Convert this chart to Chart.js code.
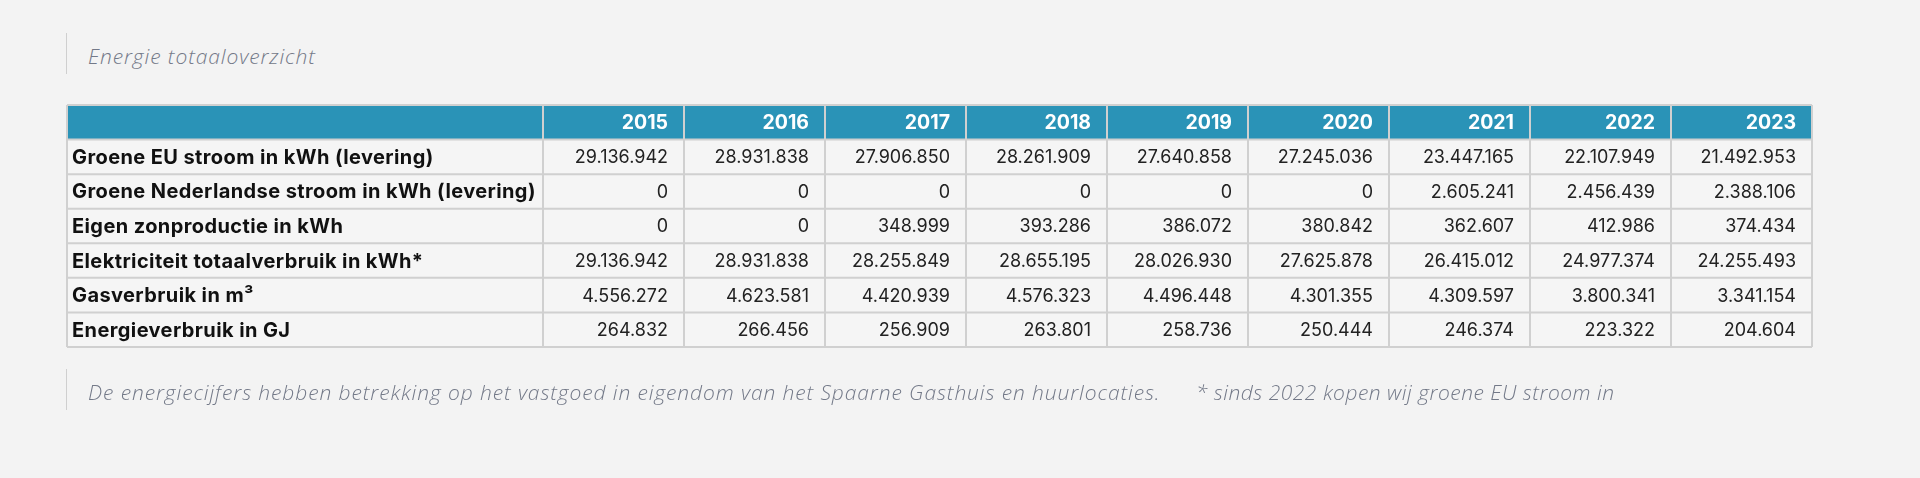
<!DOCTYPE html>
<html lang="nl">
<head>
<meta charset="utf-8">
<title>Energie totaaloverzicht</title>
<script src="https://cdn.jsdelivr.net/npm/chart.js@4.4.1/dist/chart.umd.min.js"></script>
<style>
    html, body { margin: 0; padding: 0; }
    body {
        width: 1920px; height: 478px; position: relative; overflow: hidden;
        background: #f3f3f3;
    }
    .note {
        position: absolute; left: 66px; height: 41px;
        border-left: 1px solid #cfcfcf;
        padding-left: 21px;
        font-family: 'Open Sans', sans-serif; font-style: italic; font-weight: 300;
        font-size: 21px; letter-spacing: 0.9px; line-height: 47px; color: #737988;
        white-space: nowrap;
    }
    .note .star { position: absolute; left: 1129px; letter-spacing: 0.5px; }
    #wrap { position: absolute; left: 0; top: 0; width: 1920px; height: 478px; }
</style>
</head>
<body>
<div class="note" style="top:33px">Energie totaaloverzicht</div>
<div id="wrap"><canvas id="tableChart"></canvas></div>
<div class="note" style="top:369px">De energiecijfers hebben betrekking op het vastgoed in eigendom van het Spaarne Gasthuis en huurlocaties.<span class="star">* sinds 2022 kopen wij groene EU stroom in</span></div>

<script>
/* ==============================
   ENERGIE TOTAALOVERZICHT
   ============================== */

const years = ['2015', '2016', '2017', '2018', '2019', '2020', '2021', '2022', '2023'];

const rowLabels = [
    'Groene EU stroom in kWh (levering)',
    'Groene Nederlandse stroom in kWh (levering)',
    'Eigen zonproductie in kWh',
    'Elektriciteit totaalverbruik in kWh*',
    'Gasverbruik in m³',
    'Energieverbruik in GJ'
];

const groeneEU     = [29136942, 28931838, 27906850, 28261909, 27640858, 27245036, 23447165, 22107949, 21492953];
const groeneNL     = [0, 0, 0, 0, 0, 0, 2605241, 2456439, 2388106];
const zonproductie = [0, 0, 348999, 393286, 386072, 380842, 362607, 412986, 374434];
const elektriciteit = [29136942, 28931838, 28255849, 28655195, 28026930, 27625878, 26415012, 24977374, 24255493];
const gasverbruik  = [4556272, 4623581, 4420939, 4576323, 4496448, 4301355, 4309597, 3800341, 3341154];
const energieGJ    = [264832, 266456, 256909, 263801, 258736, 250444, 246374, 223322, 204604];

const rowValues = [groeneEU, groeneNL, zonproductie, elektriciteit, gasverbruik, energieGJ];

const TABLE_LEFT = 67;
const HEADER_BG = '#2a93b7';
const CELL_BG = '#f5f5f5';
const LINE = '#d0d0d0';

const fmt = v => String(v).replace(/\B(?=(\d{3})+(?!\d))/g, '.');

// Draws the table cells from the category scales
const tablePlugin = {
    id: 'tableCells',
    afterDraw(chart) {
        const { ctx, scales: { x, y } } = chart;
        const colHalf = x.width / years.length / 2;
        const rowHalf = y.height / (rowLabels.length + 1) / 2;
        const left = TABLE_LEFT, right = x.right;
        ctx.save();

        // header band
        const hy = y.getPixelForValue(0);
        ctx.fillStyle = HEADER_BG;
        ctx.fillRect(left, hy - rowHalf, right - left, rowHalf * 2);

        // body bands
        ctx.fillStyle = CELL_BG;
        rowLabels.forEach((_, r) => {
            const cy = y.getPixelForValue(r + 1);
            ctx.fillRect(left, cy - rowHalf, right - left, rowHalf * 2);
        });

        // header years
        ctx.fillStyle = '#ffffff';
        ctx.font = '700 19.5px Inter';
        ctx.textAlign = 'right';
        ctx.textBaseline = 'middle';
        years.forEach((yr, c) => {
            ctx.fillText(yr, x.getPixelForValue(c) + colHalf - 16, hy + 1);
        });

        // row labels + values
        rowLabels.forEach((label, r) => {
            const cy = y.getPixelForValue(r + 1) + 1;
            ctx.fillStyle = '#111111';
            ctx.font = '700 20px Inter';
            ctx.letterSpacing = '0.4px';
            ctx.textAlign = 'left';
            ctx.fillText(label, left + 5, cy);
            ctx.letterSpacing = '0px';
            ctx.fillStyle = '#222222';
            ctx.font = '400 18px Inter';
            ctx.textAlign = 'right';
            rowValues[r].forEach((v, c) => {
                ctx.fillText(fmt(v), x.getPixelForValue(c) + colHalf - 16, cy);
            });
        });

        // grid lines
        ctx.strokeStyle = LINE;
        ctx.lineWidth = 2;
        ctx.beginPath();
        const top = y.getPixelForValue(0) - rowHalf;
        const bottom = y.getPixelForValue(rowLabels.length) + rowHalf;
        [left, x.left].concat(years.map((_, c) => x.getPixelForValue(c) + colHalf)).forEach(px => {
            ctx.moveTo(px, top);
            ctx.lineTo(px, bottom);
        });
        for (let r = 0; r <= rowLabels.length; r++) {
            const py = y.getPixelForValue(r) - rowHalf;
            ctx.moveTo(left, py);
            ctx.lineTo(right, py);
        }
        ctx.moveTo(left, bottom);
        ctx.lineTo(right, bottom);
        ctx.stroke();
        ctx.restore();
    }
};

new Chart(document.getElementById('tableChart'), {
    type: 'bar',
    data: { labels: years, datasets: [] },
    options: {
        responsive: true,
        maintainAspectRatio: false,
        animation: false,
        layout: { padding: { left: 543, right: 108, top: 105, bottom: 131 } },
        plugins: { legend: { display: false }, tooltip: { enabled: false } },
        scales: {
            x: { type: 'category', offset: true, display: false },
            y: { type: 'category', labels: ['header'].concat(rowLabels), offset: true, display: false }
        }
    },
    plugins: [tablePlugin]
});
</script>
</body>
</html>
